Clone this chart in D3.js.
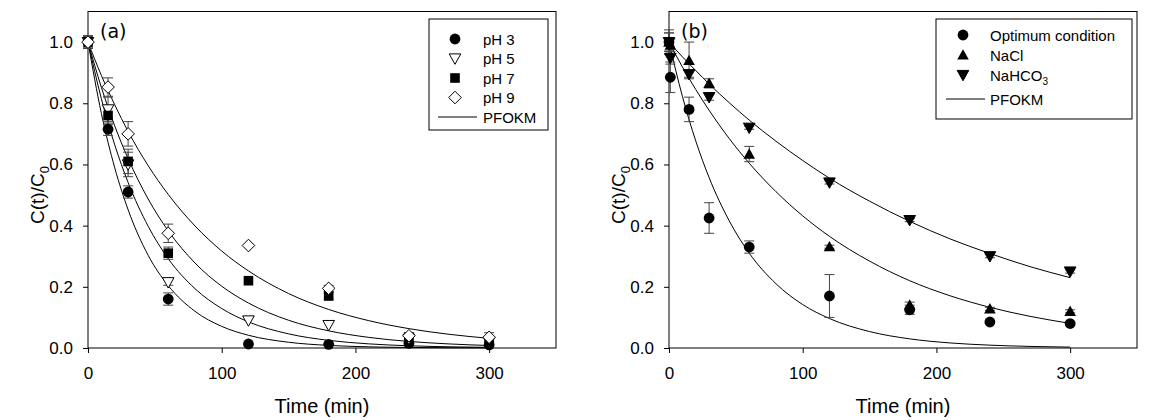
<!DOCTYPE html>
<html>
<head>
<meta charset="utf-8">
<script src="https://cdn.jsdelivr.net/npm/d3@7"></script>
<style>
  body { margin: 0; background: #fff; }
  text { font-family: "Liberation Sans", Arial, sans-serif; fill: #000; }
</style>
</head>
<body>
<svg id="chart" width="1157" height="420"></svg>
<script>
// ---- panel (a): effect of pH ----
const timesA = [0, 15, 30, 60, 120, 180, 240, 300]
const pH3 = [1.0, 0.715, 0.51, 0.16, 0.013, 0.012, 0.015, 0.01]
const pH5 = [1.0, 0.78, 0.60, 0.215, 0.09, 0.075, 0.03, 0.02]
const pH7 = [1.0, 0.76, 0.61, 0.31, 0.22, 0.17, 0.035, 0.02]
const pH9 = [1.0, 0.853, 0.70, 0.375, 0.335, 0.195, 0.04, 0.035]
const pH3Err = [0.02, 0.02, 0.02, 0.02, 0, 0, 0, 0]
const pH5Err = [0.02, 0.04, 0.04, 0.01, 0, 0, 0, 0]
const pH7Err = [0.02, 0.03, 0.04, 0.02, 0, 0.01, 0, 0]
const pH9Err = [0.02, 0.03, 0.04, 0.03, 0, 0.01, 0.01, 0.015]

// PFOKM fitted curves
const fitTimes = [0, 10, 20, 30, 45, 60, 80, 100, 120, 150, 180, 210, 240, 270, 300]
const fitA1 = [1, 0.767, 0.589, 0.452, 0.303, 0.204, 0.120, 0.0707, 0.0416, 0.0188, 0.0085, 0.0038, 0.0017, 0.0008, 0.0004]
const fitA2 = [1, 0.815, 0.664, 0.541, 0.398, 0.292, 0.194, 0.129, 0.0854, 0.0462, 0.025, 0.0135, 0.0073, 0.0039, 0.0021]
const fitA3 = [1, 0.852, 0.726, 0.619, 0.487, 0.383, 0.278, 0.202, 0.147, 0.0907, 0.0561, 0.0347, 0.0215, 0.0133, 0.0082]
const fitA4 = [1, 0.891, 0.795, 0.708, 0.596, 0.502, 0.399, 0.317, 0.252, 0.178, 0.126, 0.0894, 0.0633, 0.0448, 0.0317]

// ---- panel (b): effect of salts ----
const timesB = [0, 1, 15, 30, 60, 120, 180, 240, 300]
const optimum = [1.0, 0.885, 0.78, 0.425, 0.33, 0.17, 0.125, 0.085, 0.08]
const nacl = [1.0, 0.99, 0.94, 0.865, 0.634, 0.331, 0.14, 0.128, 0.12]
const nahco3 = [1.0, 0.948, 0.895, 0.82, 0.72, 0.541, 0.418, 0.30, 0.25]
const optimumErr = [0.03, 0.05, 0.04, 0.05, 0.02, 0.07, 0.015, 0.005, 0.005]
const naclErr = [0.03, 0.02, 0.06, 0.015, 0.025, 0.005, 0.01, 0.005, 0.005]
const nahco3Err = [0.04, 0.02, 0.01, 0.01, 0.005, 0.005, 0.005, 0.005, 0.005]

const fitB1 = [1, 0.823, 0.677, 0.557, 0.416, 0.310, 0.210, 0.142, 0.0963, 0.0537, 0.0299, 0.0166, 0.0093, 0.0052, 0.0029]
const fitB2 = [1, 0.919, 0.845, 0.777, 0.685, 0.604, 0.511, 0.432, 0.365, 0.284, 0.220, 0.171, 0.133, 0.1035, 0.0805]
const fitB3 = [1, 0.952, 0.907, 0.863, 0.802, 0.745, 0.676, 0.613, 0.555, 0.480, 0.414, 0.357, 0.309, 0.266, 0.230]

const xTicks = [0, 100, 200, 300]
const yTicks = [0, 0.2, 0.4, 0.6, 0.8, 1.0]

const svg = d3.select('#chart')

// marker shapes
const shapes = {
  circle: (g) => g.append('circle').attr('r', 5.4).attr('fill', '#000'),
  triDown: (g, fill) => g.append('path').attr('d', 'M-5.8,-4.6L5.8,-4.6L0,5.8Z')
    .attr('fill', fill ? '#000' : '#fff').attr('stroke', '#000').attr('stroke-width', 1),
  triUp: (g) => g.append('path').attr('d', 'M-5.8,4.6L5.8,4.6L0,-5.8Z').attr('fill', '#000'),
  square: (g) => g.append('rect').attr('x', -4.8).attr('y', -4.8).attr('width', 9.6).attr('height', 9.6).attr('fill', '#000'),
  diamond: (g) => g.append('path').attr('d', 'M0,-6.3L6.3,0L0,6.3L-6.3,0Z')
    .attr('fill', '#fff').attr('stroke', '#000').attr('stroke-width', 1)
}

function drawPanel(cfg) {
  const x = d3.scaleLinear().domain([0, 350]).range([cfg.left, cfg.right])
  const y = d3.scaleLinear().domain([0, 1.1]).range([348, 11.5])

  const g = svg.append('g')

  // frame
  g.append('rect')
    .attr('x', cfg.left).attr('y', y(1.1))
    .attr('width', cfg.right - cfg.left).attr('height', y(0) - y(1.1))
    .attr('fill', 'none').attr('stroke', '#000').attr('stroke-width', 1)

  const xAxis = d3.axisBottom(x).tickValues(xTicks).tickFormat(d3.format('d'))
    .tickSizeInner(5).tickSizeOuter(0).tickPadding(14)
  g.append('g')
    .attr('transform', `translate(0, ${y(0)})`)
    .call(xAxis)
    .call((a) => a.select('.domain').remove())
    .selectAll('text')
    .style('font-family', '"Liberation Sans", Arial, sans-serif')
    .style('font-size', '17px')

  const yAxis = d3.axisLeft(y).tickValues(yTicks).tickFormat(d3.format('.1f'))
    .tickSizeInner(5).tickSizeOuter(0).tickPadding(10)
  g.append('g')
    .attr('transform', `translate(${cfg.left}, 0)`)
    .call(yAxis)
    .call((a) => a.select('.domain').remove())
    .selectAll('text')
    .style('font-family', '"Liberation Sans", Arial, sans-serif')
    .style('font-size', '17px')

  g.selectAll('.tick line').attr('stroke', '#000')

  // axis titles
  g.append('text')
    .text('Time (min)')
    .attr('x', x(175)).attr('y', 413)
    .attr('text-anchor', 'middle')
    .style('font-size', '20px')

  const yt = g.append('text')
    .attr('transform', `translate(${cfg.left - 44}, ${y(0.5)}) rotate(-90)`)
    .attr('text-anchor', 'middle')
    .style('font-size', '19px')
  yt.append('tspan').text('C(t)/C')
  yt.append('tspan').text('0').attr('dy', 5).style('font-size', '13px')

  // panel letter
  g.append('text')
    .text(cfg.letter)
    .attr('x', cfg.left + 12).attr('y', 38)
    .style('font-family', '"DejaVu Sans", Verdana, sans-serif')
    .style('font-size', '19px')

  // fitted curves
  const line = d3.line()
    .x((d, i) => x(fitTimes[i]))
    .y((d) => y(d))
    .curve(d3.curveMonotoneX)
  cfg.fits.forEach((f) => {
    g.append('path')
      .attr('d', line(f))
      .attr('fill', 'none')
      .attr('stroke', '#000')
      .attr('stroke-width', 1)
  })

  // error bars
  cfg.series.forEach((s) => {
    s.values.forEach((v, i) => {
      const e = s.err[i]
      if (!e) return
      const cx = x(cfg.times[i])
      const eb = g.append('g').attr('stroke', '#444').attr('stroke-width', 1)
      eb.append('line').attr('x1', cx).attr('x2', cx).attr('y1', y(v - e)).attr('y2', y(v + e))
      eb.append('line').attr('x1', cx - 5).attr('x2', cx + 5).attr('y1', y(v - e)).attr('y2', y(v - e))
      eb.append('line').attr('x1', cx - 5).attr('x2', cx + 5).attr('y1', y(v + e)).attr('y2', y(v + e))
    })
  })

  // markers
  cfg.series.forEach((s) => {
    s.values.forEach((v, i) => {
      const m = g.append('g').attr('transform', `translate(${x(cfg.times[i])}, ${y(v)})`)
      shapes[s.shape](m, s.fill)
    })
  })

  // legend
  const lg = g.append('g')
  lg.append('rect')
    .attr('x', cfg.legend.x).attr('y', cfg.legend.y)
    .attr('width', cfg.legend.w).attr('height', cfg.legend.h)
    .attr('fill', '#fff').attr('stroke', '#000').attr('stroke-width', 1)
  cfg.series.forEach((s, i) => {
    const ry = cfg.legend.rows[i]
    const m = lg.append('g').attr('transform', `translate(${cfg.legend.sx}, ${ry})`)
    shapes[s.shape](m, s.fill)
    const t = lg.append('text')
      .attr('x', cfg.legend.tx).attr('y', ry + 5.5)
      .style('font-size', '15px')
    t.append('tspan').text(s.label)
    if (s.sub) t.append('tspan').text(s.sub).attr('dy', 4).style('font-size', '10px')
  })
  const ly = cfg.legend.rows[cfg.series.length]
  lg.append('line')
    .attr('x1', cfg.legend.sx - 17).attr('x2', cfg.legend.sx + 22)
    .attr('y1', ly).attr('y2', ly)
    .attr('stroke', '#000').attr('stroke-width', 1)
  lg.append('text')
    .text('PFOKM')
    .attr('x', cfg.legend.tx).attr('y', ly + 5.5)
    .style('font-size', '15px')
}

drawPanel({
  left: 88, right: 556, letter: '(a)',
  times: timesA,
  fits: [fitA1, fitA2, fitA3, fitA4],
  series: [
    { label: 'pH 3', values: pH3, err: pH3Err, shape: 'circle' },
    { label: 'pH 5', values: pH5, err: pH5Err, shape: 'triDown', fill: false },
    { label: 'pH 7', values: pH7, err: pH7Err, shape: 'square' },
    { label: 'pH 9', values: pH9, err: pH9Err, shape: 'diamond' }
  ],
  legend: { x: 429, y: 19, w: 119, h: 111, sx: 455, tx: 483, rows: [39, 58.5, 78, 97.5, 117] }
})

drawPanel({
  left: 669, right: 1137, letter: '(b)',
  times: timesB,
  fits: [fitB1, fitB2, fitB3],
  series: [
    { label: 'Optimum condition', values: optimum, err: optimumErr, shape: 'circle' },
    { label: 'NaCl', values: nacl, err: naclErr, shape: 'triUp' },
    { label: 'NaHCO', sub: '3', values: nahco3, err: nahco3Err, shape: 'triDown', fill: true }
  ],
  legend: { x: 936, y: 19, w: 196, h: 100, sx: 963, tx: 990, rows: [35, 55, 75, 99] }
})
</script>
</body>
</html>
